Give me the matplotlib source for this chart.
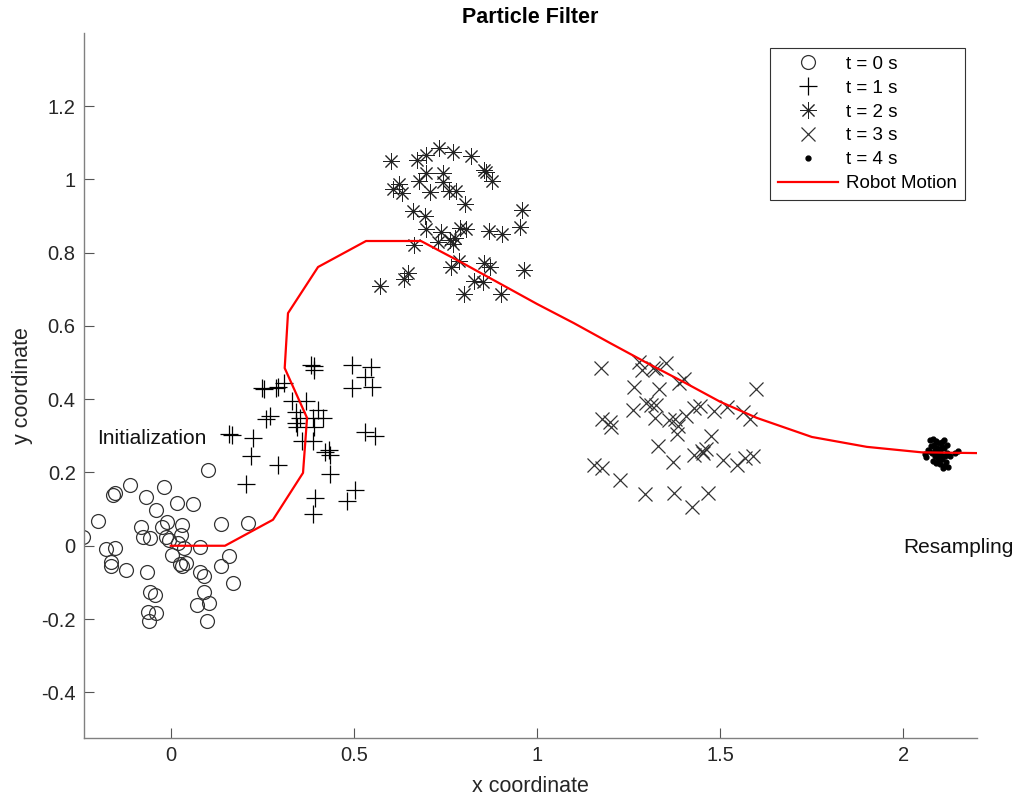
import numpy as np
import matplotlib
matplotlib.use("Agg")
import matplotlib.pyplot as plt

plt.rcParams['font.family'] = ['Liberation Sans', 'DejaVu Sans']

# particles at t = 0 s
x0 = [-0.240, -0.200, -0.176, -0.151, -0.162, -0.164, -0.158, -0.151, -0.110, -0.121,
      -0.068, -0.082, -0.077, -0.065, -0.057, -0.057, -0.044, -0.062, -0.039, -0.059,
      -0.041, -0.019, -0.023, -0.010, -0.012, -0.005, 0.002, 0.016, 0.032, 0.029,
      0.020, 0.036, 0.025, 0.032, 0.041, 0.061, 0.081, 0.079, 0.090, 0.090,
      0.072, 0.104, 0.099, 0.102, 0.137, 0.137, 0.159, 0.170, 0.211]
y0 = [0.023, 0.068, -0.008, -0.005, -0.043, -0.055, 0.139, 0.145, 0.166, -0.067,
      0.133, 0.051, 0.025, -0.073, 0.021, -0.125, -0.134, -0.182, -0.184, -0.206,
      0.098, 0.160, 0.051, 0.066, 0.024, 0.016, -0.025, 0.116, 0.057, 0.030,
      0.007, -0.006, -0.050, -0.055, -0.047, 0.115, -0.004, -0.073, -0.082, -0.126,
      -0.161, -0.155, -0.206, 0.207, 0.059, -0.056, -0.029, -0.102, 0.062]

# particles at t = 1 s
x1 = [0.160, 0.168, 0.225, 0.219, 0.205, 0.292, 0.261, 0.272, 0.248, 0.254,
      0.287, 0.293, 0.309, 0.332, 0.368, 0.343, 0.352, 0.342, 0.345, 0.402,
      0.389, 0.416, 0.391, 0.357, 0.387, 0.421, 0.434, 0.436, 0.432, 0.392,
      0.391, 0.494, 0.546, 0.530, 0.494, 0.548, 0.530, 0.557, 0.393, 0.387,
      0.503, 0.480, 0.384]
y1 = [0.305, 0.303, 0.294, 0.246, 0.168, 0.221, 0.345, 0.355, 0.430, 0.427,
      0.432, 0.434, 0.445, 0.396, 0.394, 0.364, 0.350, 0.336, 0.325, 0.371,
      0.348, 0.348, 0.325, 0.286, 0.286, 0.256, 0.248, 0.196, 0.262, 0.491,
      0.480, 0.494, 0.489, 0.462, 0.430, 0.434, 0.310, 0.300, 0.130, 0.087,
      0.153, 0.121, 0.494]

# particles at t = 2 s
x2 = [0.601, 0.671, 0.697, 0.733, 0.771, 0.820, 0.855, 0.861, 0.878, 0.697,
      0.742, 0.744, 0.678, 0.624, 0.607, 0.632, 0.708, 0.760, 0.778, 0.803,
      0.662, 0.694, 0.958, 0.952, 0.697, 0.737, 0.790, 0.806, 0.870, 0.905,
      0.729, 0.762, 0.770, 0.776, 0.665, 0.788, 0.765, 0.855, 0.872, 0.965,
      0.648, 0.637, 0.829, 0.853, 0.571, 0.801, 0.902]
y2 = [1.050, 1.053, 1.066, 1.085, 1.075, 1.064, 1.025, 1.021, 0.995, 1.019,
      1.019, 0.993, 0.996, 0.989, 0.975, 0.962, 0.966, 0.968, 0.969, 0.933,
      0.914, 0.901, 0.916, 0.871, 0.864, 0.857, 0.868, 0.864, 0.860, 0.851,
      0.830, 0.834, 0.823, 0.839, 0.821, 0.777, 0.762, 0.773, 0.760, 0.753,
      0.744, 0.728, 0.724, 0.719, 0.709, 0.686, 0.686]

# particles at t = 3 s
x3 = [1.175, 1.279, 1.286, 1.316, 1.325, 1.352, 1.400, 1.388, 1.265, 1.334,
      1.598, 1.298, 1.311, 1.325, 1.261, 1.322, 1.361, 1.377, 1.386, 1.407,
      1.429, 1.445, 1.484, 1.518, 1.562, 1.580, 1.177, 1.198, 1.202, 1.382,
      1.475, 1.330, 1.427, 1.450, 1.462, 1.454, 1.370, 1.507, 1.546, 1.568,
      1.589, 1.154, 1.178, 1.225, 1.295, 1.374, 1.466, 1.423]
y3 = [0.486, 0.501, 0.480, 0.486, 0.482, 0.500, 0.455, 0.444, 0.434, 0.427,
      0.428, 0.389, 0.385, 0.385, 0.371, 0.348, 0.344, 0.345, 0.327, 0.353,
      0.375, 0.382, 0.368, 0.378, 0.364, 0.346, 0.346, 0.339, 0.325, 0.305,
      0.300, 0.273, 0.248, 0.260, 0.264, 0.254, 0.230, 0.233, 0.221, 0.239,
      0.245, 0.221, 0.212, 0.180, 0.142, 0.145, 0.144, 0.106]

# particles at t = 4 s (after resampling)
x4 = [2.072, 2.080, 2.088, 2.066, 2.058, 2.062, 2.075, 2.084, 2.092, 2.100,
      2.096, 2.104, 2.112, 2.118, 2.110, 2.120, 2.078, 2.086, 2.094, 2.102,
      2.082, 2.090, 2.098, 2.106, 2.114, 2.116, 2.122, 2.108, 2.070, 2.092,
      2.100, 2.150, 2.140, 2.126, 2.112, 2.085, 2.095, 2.105]
y4 = [0.290, 0.292, 0.286, 0.262, 0.250, 0.242, 0.272, 0.275, 0.268, 0.262,
      0.280, 0.284, 0.288, 0.276, 0.266, 0.254, 0.252, 0.246, 0.240, 0.248,
      0.232, 0.226, 0.232, 0.238, 0.244, 0.228, 0.216, 0.212, 0.258, 0.256,
      0.222, 0.258, 0.252, 0.246, 0.218, 0.262, 0.250, 0.270]

# robot trajectory
rx = [0, 0.148, 0.279, 0.361, 0.372, 0.311, 0.320, 0.402, 0.533, 0.683,
      0.80, 0.90, 1.00, 1.10, 1.20, 1.30, 1.40, 1.50, 1.60, 1.75, 1.90, 2.05, 2.20]
ry = [0, 0.0, 0.071, 0.199, 0.349, 0.485, 0.635, 0.761, 0.832, 0.832,
      0.770, 0.715, 0.660, 0.608, 0.553, 0.499, 0.447, 0.393, 0.349, 0.297, 0.270, 0.255, 0.253]

fig = plt.figure(figsize=(10.14, 8), dpi=100)
ax = fig.add_axes([0.0828, 0.0779, 0.8804, 0.8809])

mc = '#333333'
ax.plot(x0, y0, 'o', ms=10, mfc='none', mec=mc, mew=0.9, label='t = 0 s')
ax.plot(x1, y1, '+', ms=13, mec='black', mew=0.9, label='t = 1 s')
ax.plot(x2, y2, linestyle='none', marker=(8, 2, 0), ms=12, mec='#222222', mew=0.7, label='t = 2 s')
ax.plot(x3, y3, 'x', ms=10, mec=mc, mew=0.9, label='t = 3 s')
ax.plot(x4, y4, '.', ms=7, color='black', label='t = 4 s')
ax.plot(rx, ry, '-', color='#ff0000', lw=1.6, label='Robot Motion')

ax.text(-0.201, 0.294, 'Initialization', fontsize=15, va='center', ha='left', color='#111111')
ax.text(2.0, -0.006, 'Resampling', fontsize=15, va='center', ha='left', color='#111111')

ax.set_xlim(-0.237, 2.2)
ax.set_ylim(-0.524, 1.4)
ax.set_xticks([0, 0.5, 1, 1.5, 2])
ax.set_xticklabels(['0', '0.5', '1', '1.5', '2'])
ax.set_yticks([-0.4, -0.2, 0, 0.2, 0.4, 0.6, 0.8, 1.0, 1.2])
ax.set_yticklabels(['-0.4', '-0.2', '0', '0.2', '0.4', '0.6', '0.8', '1', '1.2'])

for s in ['top', 'right']:
    ax.spines[s].set_visible(False)
for s in ['left', 'bottom']:
    ax.spines[s].set_color('#808080')
    ax.spines[s].set_linewidth(1.0)
ax.tick_params(direction='in', length=7, width=0.8, color='#555555',
               labelsize=14.5, labelcolor='#262626', pad=6)

ax.set_xlabel('x coordinate', fontsize=15.5, color='#262626', labelpad=8)
ax.set_ylabel('y coordinate', fontsize=15.5, color='#262626', labelpad=6)
ax.set_title('Particle Filter', fontsize=15.5, fontweight='bold', color='black', pad=7)

leg = ax.legend(loc='upper right', bbox_to_anchor=(0.987, 0.979), borderaxespad=0,
                fontsize=13.5, fancybox=False, framealpha=1, edgecolor='#333333',
                handlelength=3.2, labelspacing=0.36, handletextpad=0.45, borderpad=0.42)
leg.get_frame().set_linewidth(0.8)

plt.savefig('out.png', dpi=100)
